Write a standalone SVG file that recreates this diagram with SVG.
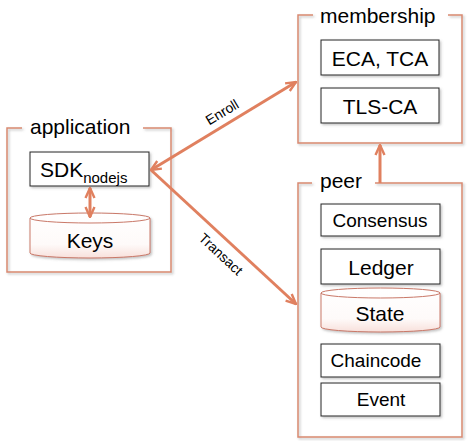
<svg xmlns="http://www.w3.org/2000/svg" width="467" height="441" viewBox="0 0 467 441">
<style>
text{font-family:"Liberation Sans",Arial,sans-serif;fill:#000}
.cont{fill:none;stroke:#d98a72;stroke-width:1.5}
.box{fill:#fff;stroke:#222;stroke-width:1}
.cyl{fill:url(#cg);stroke:#c97868;stroke-width:1}
.t21{font-size:21px;text-anchor:middle}
.t19{font-size:19px;text-anchor:middle}
.ttl{font-size:21px}
.lbl{font-size:14px;text-anchor:middle}
.arr{fill:none;stroke:#e0805f;stroke-width:3}
</style>
<defs>
<linearGradient id="cg" x1="0" y1="0" x2="0" y2="1">
<stop offset="0" stop-color="#ffffff"/>
<stop offset="0.7" stop-color="#fefaf9"/>
<stop offset="1" stop-color="#f8e0db"/>
</linearGradient>
<filter id="sh" x="-10%" y="-10%" width="130%" height="130%">
<feDropShadow dx="1.5" dy="1.5" stdDeviation="1.2" flood-color="#777" flood-opacity="0.45"/>
</filter>
<marker id="ah" viewBox="0 0 12 12" refX="11" refY="6" markerWidth="12" markerHeight="12" markerUnits="userSpaceOnUse" orient="auto-start-reverse">
<path d="M1,1.5 L11,6 L1,10.5" fill="none" stroke="#e0805f" stroke-width="2.4" stroke-linejoin="miter"/>
</marker>
</defs>
<rect width="467" height="441" fill="#fff"/>

<g id="application">
<path class="cont" filter="url(#sh)" d="M22,128 H7 V272 H171 V128 H143"/>
<text class="ttl" x="30" y="134">application</text>
</g>
<g id="sdk">
<rect class="box" filter="url(#sh)" x="30" y="152" width="119" height="34"/>
<text x="40" y="177" font-size="21">SDK<tspan font-size="15" dy="6">nodejs</tspan></text>
</g>
<g id="keys">
<path class="cyl" filter="url(#sh)" d="M30,218 A60,5 0 0 1 150,218 V253 A60,5 0 0 1 30,253 Z"/>
<path d="M30,218 A60,5 0 0 0 150,218" fill="none" stroke="#c97868" stroke-width="1"/>
<text class="t21" x="90" y="248">Keys</text>
</g>

<g id="membership">
<path class="cont" filter="url(#sh)" d="M313,15 H298 V143 H462 V15 H448"/>
<text class="ttl" x="320" y="23">membership</text>
</g>
<g id="eca">
<rect class="box" filter="url(#sh)" x="321" y="40" width="118" height="35"/>
<text class="t21" x="380" y="66">ECA, TCA</text>
</g>
<g id="tlsca">
<rect class="box" filter="url(#sh)" x="321" y="88" width="118" height="35"/>
<text class="t21" x="380" y="114">TLS-CA</text>
</g>

<g id="peer">
<path class="cont" filter="url(#sh)" d="M312,183 H298 V437 H462 V183 H375"/>
<text class="ttl" x="320" y="188">peer</text>
</g>
<g id="consensus">
<rect class="box" filter="url(#sh)" x="321" y="204" width="119" height="32"/>
<text class="t19" x="380" y="227">Consensus</text>
</g>
<g id="ledger">
<rect class="box" filter="url(#sh)" x="321" y="249" width="119" height="35"/>
<text class="t21" x="381" y="275">Ledger</text>
</g>
<g id="state">
<path class="cyl" filter="url(#sh)" d="M321,293 A59.5,5 0 0 1 440,293 V327 A59.5,5 0 0 1 321,327 Z"/>
<path d="M321,293 A59.5,5 0 0 0 440,293" fill="none" stroke="#c97868" stroke-width="1"/>
<text class="t21" x="380" y="321">State</text>
</g>
<g id="chaincode">
<rect class="box" filter="url(#sh)" x="321" y="344" width="119" height="33"/>
<text class="t19" x="376" y="367">Chaincode</text>
</g>
<g id="event">
<rect class="box" filter="url(#sh)" x="321" y="383" width="119" height="33"/>
<text class="t19" x="381" y="406">Event</text>
</g>

<g id="connectors">
<line class="arr" x1="90" y1="188" x2="90" y2="217" marker-start="url(#ah)" marker-end="url(#ah)"/>
<line class="arr" x1="380" y1="183" x2="380" y2="145" marker-end="url(#ah)"/>
<line class="arr" x1="151" y1="170" x2="296" y2="82" marker-start="url(#ah)" marker-end="url(#ah)"/>
<line class="arr" x1="151" y1="170" x2="296" y2="304" marker-end="url(#ah)"/>
<g transform="translate(222,112) rotate(-31)"><text class="lbl" x="0" y="5">Enroll</text></g>
<g transform="translate(221,254) rotate(43)"><text class="lbl" x="0" y="5">Transact</text></g>
</g>
</svg>
